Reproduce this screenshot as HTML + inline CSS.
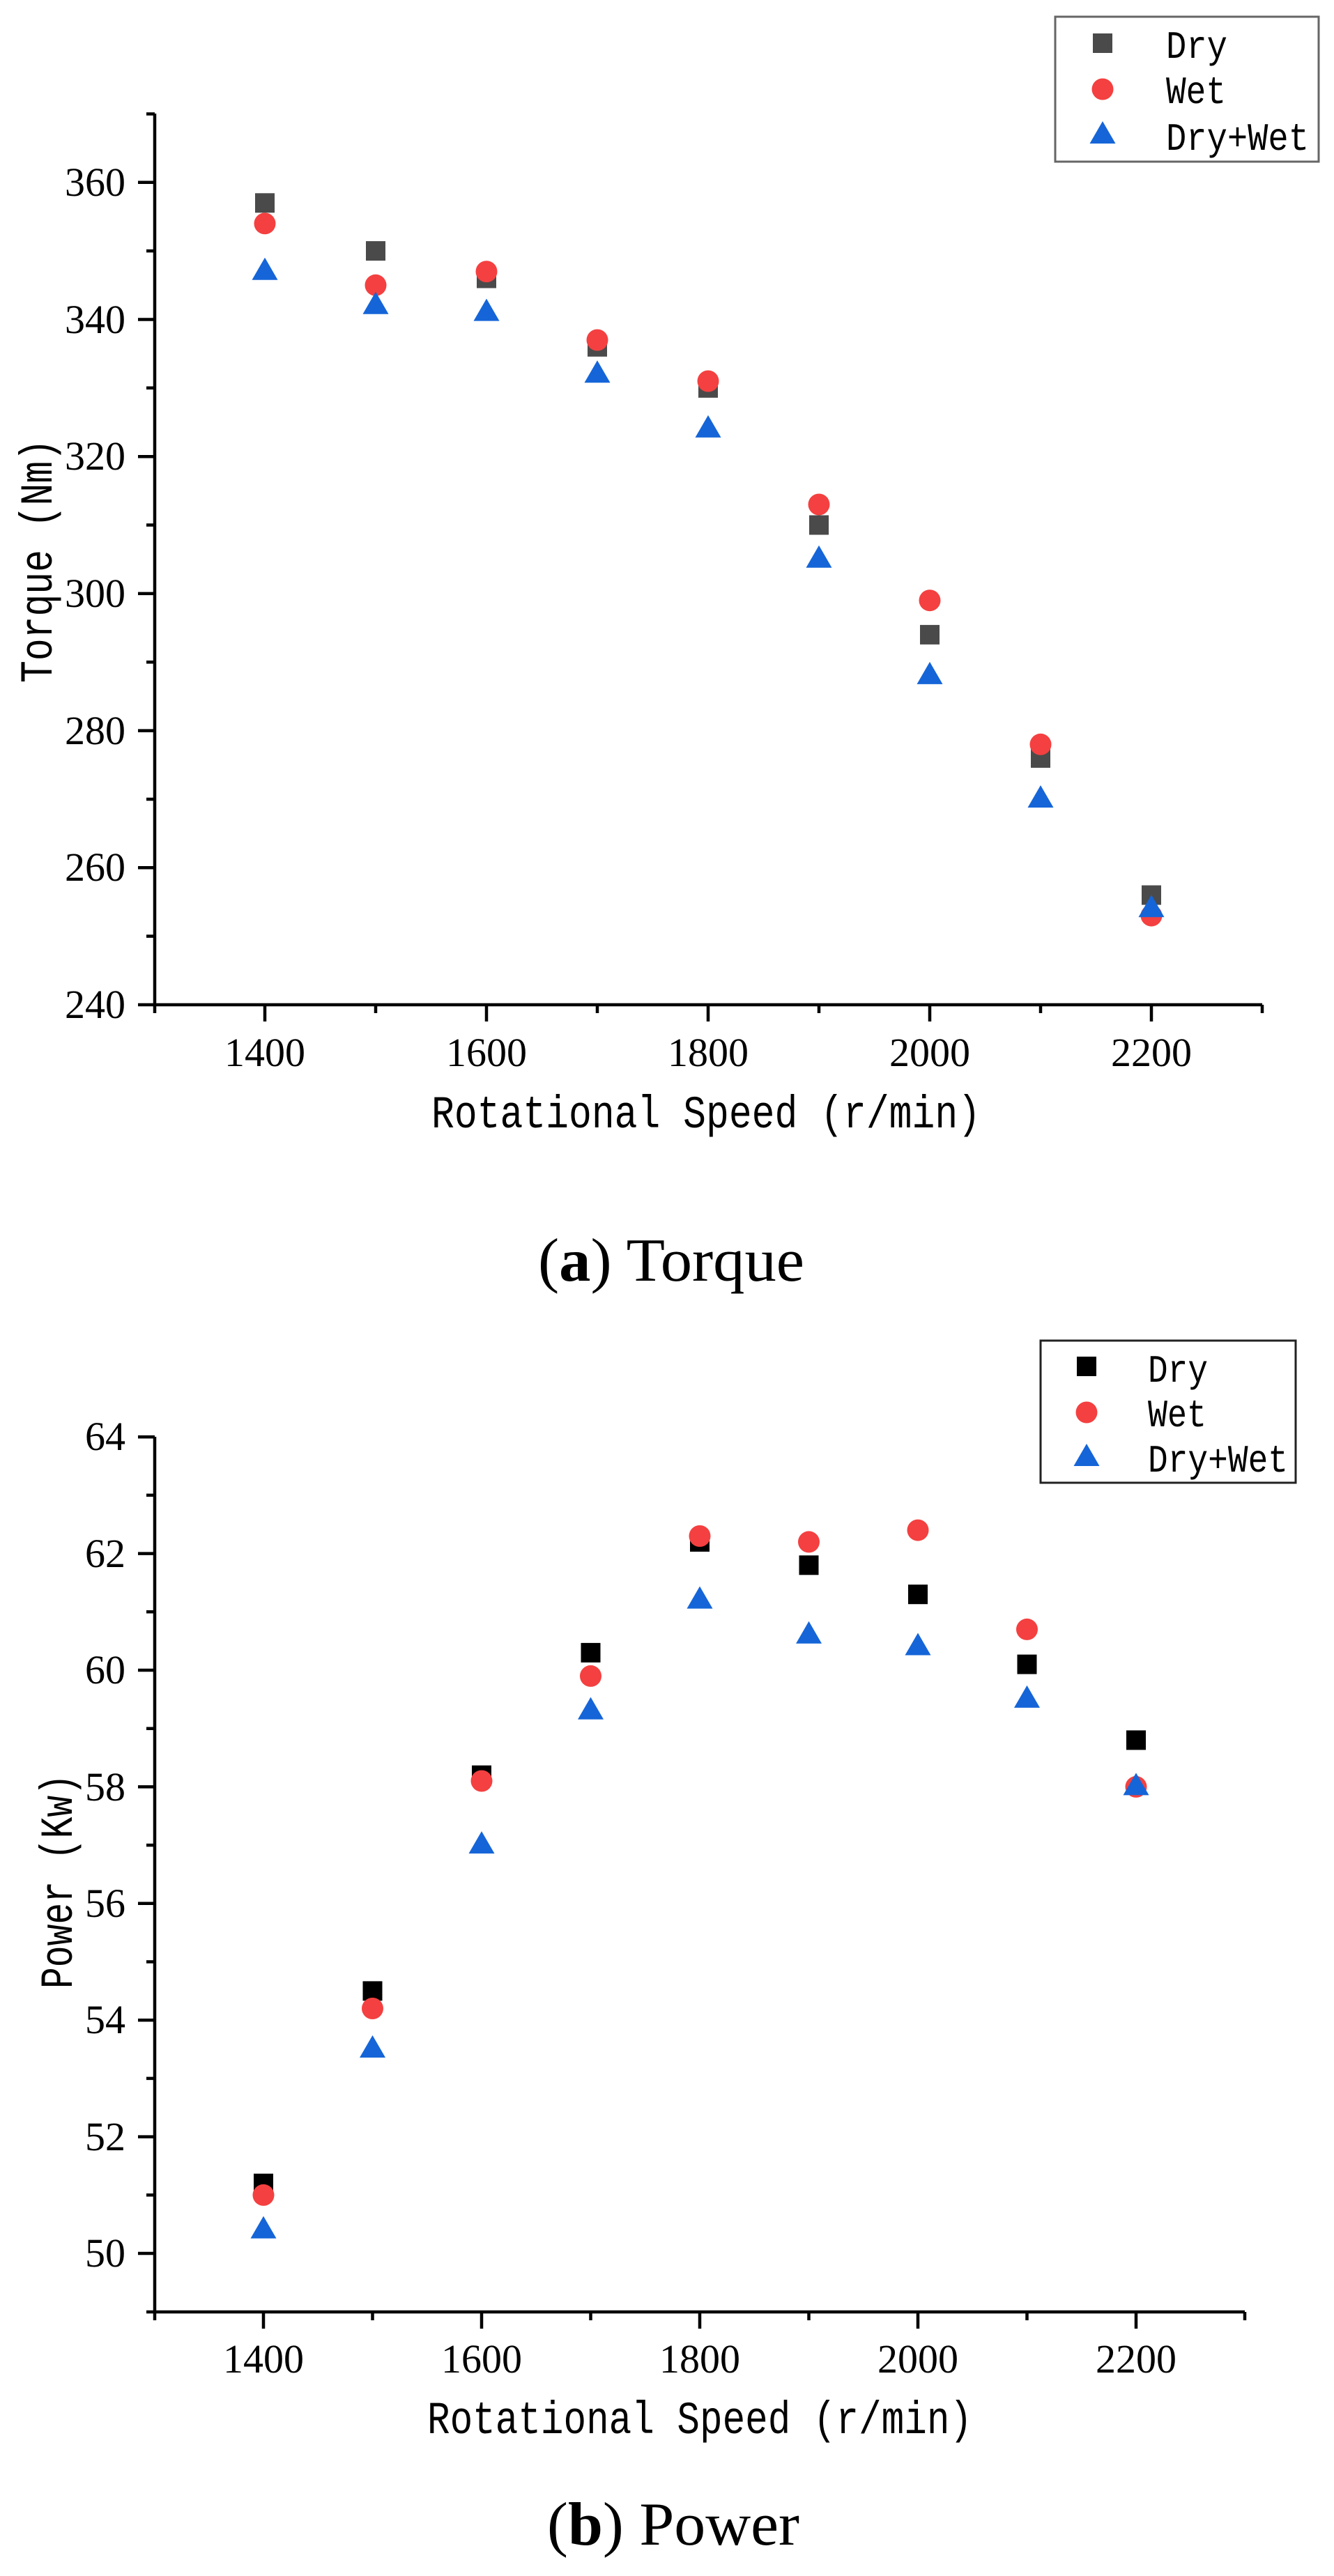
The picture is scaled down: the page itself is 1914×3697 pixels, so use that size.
<!DOCTYPE html>
<html><head><meta charset="utf-8"><style>
html,body{margin:0;padding:0;background:#fff;}
svg{display:block;}
.tk{font-family:"Liberation Serif",serif;font-size:58px;fill:#000;}
.mono{font-family:"Liberation Mono",monospace;fill:#000;}
.cap{font-family:"Liberation Serif",serif;font-size:88px;fill:#000;}
</style></head><body>
<svg width="1914" height="3697" viewBox="0 0 1914 3697" xmlns="http://www.w3.org/2000/svg">
<defs>
<rect id="sq1" x="-14" y="-14" width="28" height="28" fill="#4a4a4a"/>
<rect id="sq2" x="-14" y="-14" width="28" height="28" fill="#000"/>
<circle id="ci" r="15.5" fill="#f44040"/>
<polygon id="tr" points="-18.5,12 18.5,12 0,-20" fill="#1565d8"/>
</defs>

<!-- ===== Chart 1 ===== -->
<g stroke="#000" stroke-width="4.5" fill="none">
<path d="M222,163 V1442 H1811"/>
<!-- y major ticks -->
<path d="M198,1442H222 M198,1245.3H222 M198,1048.6H222 M198,851.9H222 M198,655.2H222 M198,458.5H222 M198,261.8H222"/>
<!-- y minor -->
<path d="M210,1343.6H222 M210,1147H222 M210,950.2H222 M210,753.5H222 M210,556.8H222 M210,360.1H222 M210,163.5H222"/>
<!-- x ticks -->
<path d="M380,1442V1466 M698,1442V1466 M1016,1442V1466 M1334,1442V1466 M1652,1442V1466"/>
<path d="M222,1442V1454 M539,1442V1454 M857,1442V1454 M1175,1442V1454 M1493,1442V1454 M1811,1442V1454"/>
</g>
<g class="tk" text-anchor="end">
<text x="180" y="1461">240</text><text x="180" y="1264">260</text><text x="180" y="1068">280</text>
<text x="180" y="871">300</text><text x="180" y="674">320</text><text x="180" y="478">340</text><text x="180" y="281">360</text>
</g>
<g class="tk" text-anchor="middle">
<text x="380" y="1530">1400</text><text x="698" y="1530">1600</text><text x="1016" y="1530">1800</text>
<text x="1334" y="1530">2000</text><text x="1652" y="1530">2200</text>
</g>
<text class="mono" x="619" y="1618" font-size="66" textLength="788" lengthAdjust="spacingAndGlyphs">Rotational Speed (r/min)</text>
<text class="mono" transform="translate(74,980) rotate(-90)" font-size="66" textLength="350" lengthAdjust="spacingAndGlyphs">Torque (Nm)</text>
<!-- data 1 -->
<g>
<use href="#sq1" x="380" y="291.3"/><use href="#sq1" x="539" y="360.1"/><use href="#sq1" x="698" y="399.5"/>
<use href="#sq1" x="857" y="497.8"/><use href="#sq1" x="1016" y="556.8"/><use href="#sq1" x="1175" y="753.5"/>
<use href="#sq1" x="1334" y="910.9"/><use href="#sq1" x="1493" y="1087.9"/><use href="#sq1" x="1652" y="1284.6"/>
<use href="#ci" x="380" y="320.8"/><use href="#ci" x="539" y="409.3"/><use href="#ci" x="698" y="389.7"/>
<use href="#ci" x="857" y="488"/><use href="#ci" x="1016" y="547"/><use href="#ci" x="1175" y="724"/>
<use href="#ci" x="1334" y="861.7"/><use href="#ci" x="1493" y="1068.3"/><use href="#ci" x="1652" y="1314.1"/>
<use href="#tr" x="380" y="389.7"/><use href="#tr" x="539" y="438.8"/><use href="#tr" x="698" y="448.6"/>
<use href="#tr" x="857" y="537.2"/><use href="#tr" x="1016" y="615.9"/><use href="#tr" x="1175" y="802.7"/>
<use href="#tr" x="1334" y="969.9"/><use href="#tr" x="1493" y="1147"/><use href="#tr" x="1652" y="1304.3"/>
</g>
<!-- legend 1 -->
<rect x="1514" y="24" width="378" height="208" fill="#fff" stroke="#666" stroke-width="3"/>
<use href="#sq1" x="1582" y="62"/><use href="#ci" x="1582" y="128"/><use href="#tr" x="1582" y="194"/>
<g class="mono" font-size="56">
<text x="1673" y="83" textLength="88" lengthAdjust="spacingAndGlyphs">Dry</text>
<text x="1673" y="148" textLength="86" lengthAdjust="spacingAndGlyphs">Wet</text>
<text x="1673" y="215" textLength="205" lengthAdjust="spacingAndGlyphs">Dry+Wet</text>
</g>
<text class="cap" x="772" y="1838" textLength="382" lengthAdjust="spacingAndGlyphs">(<tspan font-weight="bold">a</tspan>) Torque</text>

<!-- ===== Chart 2 ===== -->
<g stroke="#000" stroke-width="4.5" fill="none">
<path d="M222,2062 V3318 H1786"/>
<path d="M198,3234H222 M198,3066.6H222 M198,2899.2H222 M198,2731.8H222 M198,2564.4H222 M198,2397H222 M198,2229.6H222 M198,2062.2H222"/>
<path d="M210,3318H222 M210,3150.3H222 M210,2982.9H222 M210,2815.5H222 M210,2648.1H222 M210,2480.7H222 M210,2313.3H222 M210,2145.9H222"/>
<path d="M378,3318V3342 M691,3318V3342 M1004,3318V3342 M1317,3318V3342 M1630,3318V3342"/>
<path d="M222,3318V3330 M534.5,3318V3330 M847.5,3318V3330 M1160.5,3318V3330 M1473.5,3318V3330 M1786,3318V3330"/>
</g>
<g class="tk" text-anchor="end">
<text x="180" y="3253">50</text><text x="180" y="3086">52</text><text x="180" y="2918">54</text>
<text x="180" y="2751">56</text><text x="180" y="2584">58</text><text x="180" y="2416">60</text>
<text x="180" y="2249">62</text><text x="180" y="2081">64</text>
</g>
<g class="tk" text-anchor="middle">
<text x="378" y="3405">1400</text><text x="691" y="3405">1600</text><text x="1004" y="3405">1800</text>
<text x="1317" y="3405">2000</text><text x="1630" y="3405">2200</text>
</g>
<text class="mono" x="613" y="3492" font-size="66" textLength="782" lengthAdjust="spacingAndGlyphs">Rotational Speed (r/min)</text>
<text class="mono" transform="translate(103,2854) rotate(-90)" font-size="66" textLength="308" lengthAdjust="spacingAndGlyphs">Power (Kw)</text>
<g>
<use href="#sq2" x="378" y="3133.6"/><use href="#sq2" x="534.5" y="2857.4"/><use href="#sq2" x="691" y="2547.7"/>
<use href="#sq2" x="847.5" y="2371.9"/><use href="#sq2" x="1004" y="2212.9"/><use href="#sq2" x="1160.5" y="2246.3"/>
<use href="#sq2" x="1317" y="2288.2"/><use href="#sq2" x="1473.5" y="2388.6"/><use href="#sq2" x="1630" y="2497.4"/>
<use href="#ci" x="378" y="3150.3"/><use href="#ci" x="534.5" y="2882.5"/><use href="#ci" x="691" y="2556"/>
<use href="#ci" x="847.5" y="2405.4"/><use href="#ci" x="1004" y="2204.5"/><use href="#ci" x="1160.5" y="2212.9"/>
<use href="#ci" x="1317" y="2196.1"/><use href="#ci" x="1473.5" y="2338.4"/><use href="#ci" x="1630" y="2564.4"/>
<use href="#tr" x="378" y="3200.5"/><use href="#tr" x="534.5" y="2941"/><use href="#tr" x="691" y="2648.1"/>
<use href="#tr" x="847.5" y="2455.6"/><use href="#tr" x="1004" y="2296.6"/><use href="#tr" x="1160.5" y="2346.8"/>
<use href="#tr" x="1317" y="2363.5"/><use href="#tr" x="1473.5" y="2438.9"/><use href="#tr" x="1630" y="2564.4"/>
</g>
<rect x="1493" y="1924" width="366" height="204" fill="#fff" stroke="#222" stroke-width="3"/>
<use href="#sq2" x="1559" y="1961"/><use href="#ci" x="1559" y="2027"/><use href="#tr" x="1559" y="2092"/>
<g class="mono" font-size="56">
<text x="1647" y="1983" textLength="86" lengthAdjust="spacingAndGlyphs">Dry</text>
<text x="1647" y="2047" textLength="84" lengthAdjust="spacingAndGlyphs">Wet</text>
<text x="1647" y="2112" textLength="201" lengthAdjust="spacingAndGlyphs">Dry+Wet</text>
</g>
<text class="cap" x="785" y="3652" textLength="362" lengthAdjust="spacingAndGlyphs">(<tspan font-weight="bold">b</tspan>) Power</text>
</svg>
</body></html>
